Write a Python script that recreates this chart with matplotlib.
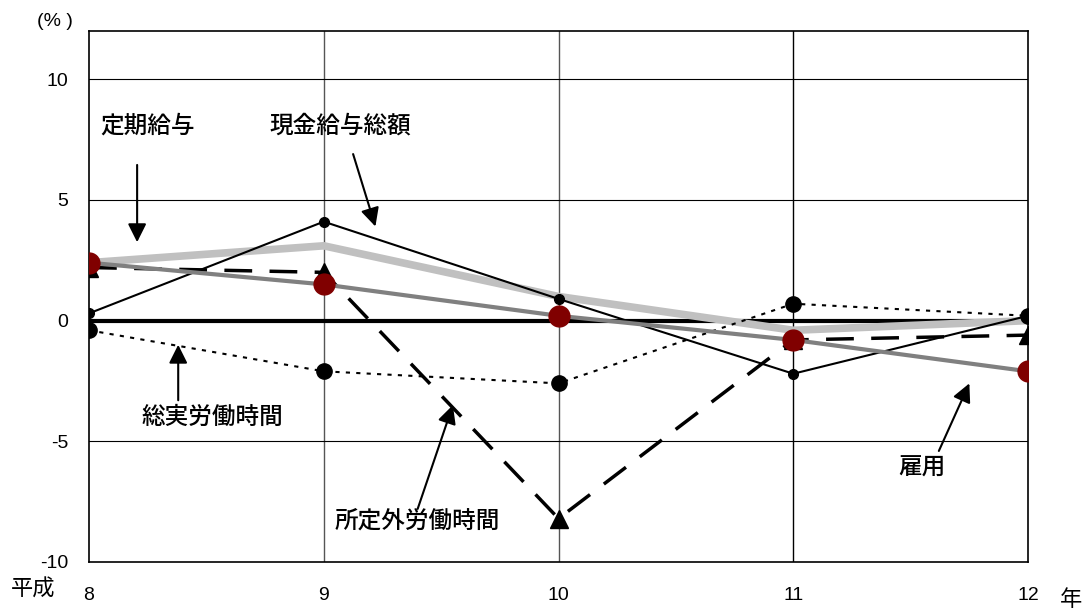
import matplotlib.pyplot as plt

plt.rcParams['font.family'] = ['Liberation Sans', 'Noto Sans CJK JP', 'DejaVu Sans']

years = [8, 9, 10, 11, 12]
year_labels = ['8', '9', '10', '11', '12']

genkin = [0.3, 4.1, 0.9, -2.2, 0.2]        # 現金給与総額
teiki = [2.4, 3.1, 1.0, -0.4, 0.0]         # 定期給与
shoteigai = [2.2, 2.0, -8.2, -0.8, -0.6]   # 所定外労働時間
sojitsu = [-0.4, -2.1, -2.6, 0.7, 0.2]     # 総実労働時間
koyo = [2.4, 1.5, 0.2, -0.8, -2.1]         # 雇用

yticks = [-10, -5, 0, 5, 10]
ytick_labels = ['-10', '-5', '0', '5', '10']

jp = ['Noto Sans CJK JP', 'DejaVu Sans']

fig = plt.figure(figsize=(10.88, 6.11), dpi=100)
ax = fig.add_axes([0.0818, 0.0802, 0.8631, 0.8691])

# grid
for x in [9, 10, 11]:
    ax.axvline(x, color='#555555' if x < 11 else 'black', lw=1, zorder=0)
for y in [-5, 5, 10]:
    ax.axhline(y, color='black', lw=0.8, zorder=0)
ax.axhline(0, color='black', lw=3, zorder=1)

ax.plot(years, sojitsu, color='black', lw=1.5, ls=(0, (2, 3)),
        marker='o', ms=11, zorder=3)
ax.plot(years, teiki, color='#c0c0c0', lw=5.5, zorder=2)
ax.plot(years, genkin, color='black', lw=1.5, marker='o', ms=7, zorder=4)
ax.plot(years, shoteigai, color='black', lw=2.5, ls=(0, (8, 5)),
        marker='^', ms=13, zorder=3)
ax.plot(years, koyo, color='#808080', lw=3, marker='o', ms=15,
        markerfacecolor='#800000', markeredgecolor='#800000', zorder=5)

ax.set_xlim(8, 12)
ax.set_ylim(-10, 12)
ax.set_yticks(yticks)
ax.set_yticklabels(ytick_labels)
ax.set_xticks(years)
ax.set_xticklabels(year_labels)
ax.tick_params(axis='y', length=0, labelsize=14, pad=15)
ax.tick_params(axis='x', length=0, labelsize=14, pad=18)
for s in ax.spines.values():
    s.set_linewidth(1.2)

fig.text(0.034, 0.958, '(% )', fontsize=14)
fig.text(0.01, 0.025, '平成', fontsize=16, family=jp)
fig.text(0.974, 0.008, '年', fontsize=16, family=jp)

arrow = dict(arrowstyle='-|>', mutation_scale=28, color='black', lw=1.5,
             shrinkA=0, shrinkB=0)
ann = [
    ('定期給与', (8.25, 8.05), (8.205, 6.45), (8.205, 3.25)),
    ('現金給与総額', (9.07, 8.05), (9.125, 6.9), (9.22, 3.9)),
    ('総実労働時間', (8.525, -4.0), (8.38, -3.3), (8.38, -1.0)),
    ('所定外労働時間', (9.4, -8.3), (9.4, -7.8), (9.55, -3.5)),
    ('雇用', (11.55, -6.1), (11.62, -5.4), (11.75, -2.6)),
]
for txt, tpos, a0, a1 in ann:
    ax.text(tpos[0], tpos[1], txt, fontsize=17, ha='center', va='center',
            family=jp, weight='medium')
    ax.annotate('', xy=a1, xytext=a0, arrowprops=arrow)

fig.savefig('out.png', dpi=100)
